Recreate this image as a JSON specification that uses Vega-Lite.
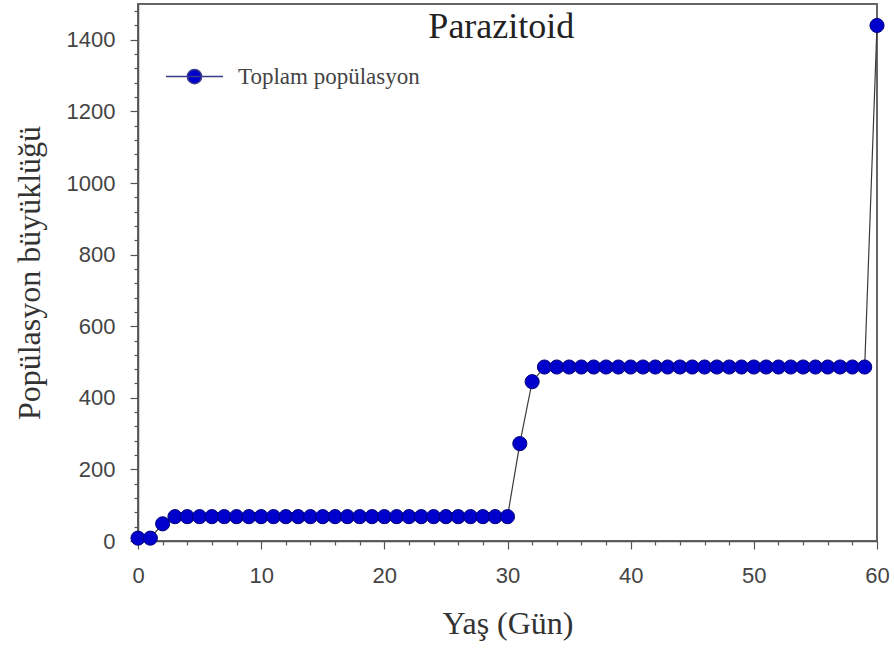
{
  "$schema": "https://vega.github.io/schema/vega-lite/v6.json",
  "width": 739,
  "height": 537,
  "autosize": {"type": "none"},
  "padding": {"left": 138, "top": 4, "right": 17, "bottom": 111},
  "background": "white",
  "data": {"values": [
    {"gun": 0, "pop": 8, "series": "Toplam popülasyon"},
    {"gun": 1, "pop": 8, "series": "Toplam popülasyon"},
    {"gun": 2, "pop": 48, "series": "Toplam popülasyon"},
    {"gun": 3, "pop": 68, "series": "Toplam popülasyon"},
    {"gun": 4, "pop": 68, "series": "Toplam popülasyon"},
    {"gun": 5, "pop": 68, "series": "Toplam popülasyon"},
    {"gun": 6, "pop": 68, "series": "Toplam popülasyon"},
    {"gun": 7, "pop": 68, "series": "Toplam popülasyon"},
    {"gun": 8, "pop": 68, "series": "Toplam popülasyon"},
    {"gun": 9, "pop": 68, "series": "Toplam popülasyon"},
    {"gun": 10, "pop": 68, "series": "Toplam popülasyon"},
    {"gun": 11, "pop": 68, "series": "Toplam popülasyon"},
    {"gun": 12, "pop": 68, "series": "Toplam popülasyon"},
    {"gun": 13, "pop": 68, "series": "Toplam popülasyon"},
    {"gun": 14, "pop": 68, "series": "Toplam popülasyon"},
    {"gun": 15, "pop": 68, "series": "Toplam popülasyon"},
    {"gun": 16, "pop": 68, "series": "Toplam popülasyon"},
    {"gun": 17, "pop": 68, "series": "Toplam popülasyon"},
    {"gun": 18, "pop": 68, "series": "Toplam popülasyon"},
    {"gun": 19, "pop": 68, "series": "Toplam popülasyon"},
    {"gun": 20, "pop": 68, "series": "Toplam popülasyon"},
    {"gun": 21, "pop": 68, "series": "Toplam popülasyon"},
    {"gun": 22, "pop": 68, "series": "Toplam popülasyon"},
    {"gun": 23, "pop": 68, "series": "Toplam popülasyon"},
    {"gun": 24, "pop": 68, "series": "Toplam popülasyon"},
    {"gun": 25, "pop": 68, "series": "Toplam popülasyon"},
    {"gun": 26, "pop": 68, "series": "Toplam popülasyon"},
    {"gun": 27, "pop": 68, "series": "Toplam popülasyon"},
    {"gun": 28, "pop": 68, "series": "Toplam popülasyon"},
    {"gun": 29, "pop": 68, "series": "Toplam popülasyon"},
    {"gun": 30, "pop": 68, "series": "Toplam popülasyon"},
    {"gun": 31, "pop": 272, "series": "Toplam popülasyon"},
    {"gun": 32, "pop": 445, "series": "Toplam popülasyon"},
    {"gun": 33, "pop": 486, "series": "Toplam popülasyon"},
    {"gun": 34, "pop": 486, "series": "Toplam popülasyon"},
    {"gun": 35, "pop": 486, "series": "Toplam popülasyon"},
    {"gun": 36, "pop": 486, "series": "Toplam popülasyon"},
    {"gun": 37, "pop": 486, "series": "Toplam popülasyon"},
    {"gun": 38, "pop": 486, "series": "Toplam popülasyon"},
    {"gun": 39, "pop": 486, "series": "Toplam popülasyon"},
    {"gun": 40, "pop": 486, "series": "Toplam popülasyon"},
    {"gun": 41, "pop": 486, "series": "Toplam popülasyon"},
    {"gun": 42, "pop": 486, "series": "Toplam popülasyon"},
    {"gun": 43, "pop": 486, "series": "Toplam popülasyon"},
    {"gun": 44, "pop": 486, "series": "Toplam popülasyon"},
    {"gun": 45, "pop": 486, "series": "Toplam popülasyon"},
    {"gun": 46, "pop": 486, "series": "Toplam popülasyon"},
    {"gun": 47, "pop": 486, "series": "Toplam popülasyon"},
    {"gun": 48, "pop": 486, "series": "Toplam popülasyon"},
    {"gun": 49, "pop": 486, "series": "Toplam popülasyon"},
    {"gun": 50, "pop": 486, "series": "Toplam popülasyon"},
    {"gun": 51, "pop": 486, "series": "Toplam popülasyon"},
    {"gun": 52, "pop": 486, "series": "Toplam popülasyon"},
    {"gun": 53, "pop": 486, "series": "Toplam popülasyon"},
    {"gun": 54, "pop": 486, "series": "Toplam popülasyon"},
    {"gun": 55, "pop": 486, "series": "Toplam popülasyon"},
    {"gun": 56, "pop": 486, "series": "Toplam popülasyon"},
    {"gun": 57, "pop": 486, "series": "Toplam popülasyon"},
    {"gun": 58, "pop": 486, "series": "Toplam popülasyon"},
    {"gun": 59, "pop": 486, "series": "Toplam popülasyon"},
    {"gun": 60, "pop": 1440, "series": "Toplam popülasyon"}
  ]},
  "resolve": {"axis": {"x": "independent", "y": "independent"}},
  "layer": [
    {
      "mark": {"type": "line", "color": "#3a3a3a", "strokeWidth": 1.2, "clip": false},
      "encoding": {
        "x": {"field": "gun", "type": "quantitative", "scale": {"domain": [0, 60], "nice": false, "zero": false},
          "axis": {"orient": "bottom", "values": [0,10,20,30,40,50,60],
            "title": "Yaş (Gün)", "titleFont": "Liberation Serif", "titleFontSize": 32, "titleFontWeight": "normal", "titleColor": "#333333", "titlePadding": 22,
            "labelFont": "Liberation Sans", "labelFontSize": 22, "labelColor": "#444444", "labelPadding": 16, "tickSize": 8, "tickColor": "#555555", "tickWidth": 1.2, "domainColor": "#555555", "domainWidth": 1.5, "grid": false}},
        "y": {"field": "pop", "type": "quantitative", "scale": {"domain": [0, 1500], "nice": false},
          "axis": {"orient": "left", "values": [0,200,400,600,800,1000,1200,1400], "format": "d",
            "title": "Popülasyon büyüklüğü", "titleFont": "Liberation Serif", "titleFontSize": 32, "titleFontWeight": "normal", "titleColor": "#333333", "titlePadding": 20,
            "labelFont": "Liberation Sans", "labelFontSize": 22, "labelColor": "#444444", "labelPadding": 15, "tickSize": 8, "tickColor": "#555555", "tickWidth": 1.2, "domainColor": "#555555", "domainWidth": 1.5, "grid": false}}
      }
    },
    {
      "mark": {"type": "point", "filled": true, "size": 200, "opacity": 1, "stroke": "#00007a", "strokeWidth": 1, "clip": false},
      "encoding": {
        "x": {"field": "gun", "type": "quantitative",
          "axis": {"orient": "bottom", "values": [2,4,6,8,12,14,16,18,22,24,26,28,32,34,36,38,42,44,46,48,52,54,56,58], "labels": false, "title": null, "domain": false, "grid": false, "tickSize": 4, "tickColor": "#555555", "tickWidth": 1.2}},
        "y": {"field": "pop", "type": "quantitative",
          "axis": {"orient": "left", "values": [40,80,120,160,240,280,320,360,440,480,520,560,640,680,720,760,840,880,920,960,1040,1080,1120,1160,1240,1280,1320,1360,1440,1480], "labels": false, "title": null, "domain": false, "grid": false, "tickSize": 4, "tickColor": "#555555", "tickWidth": 1.2}},
        "color": {"field": "series", "type": "nominal", "scale": {"range": ["#0000cc"]},
          "legend": {"title": null, "orient": "none", "legendX": 27, "legendY": 43, "symbolType": "M-1,0L1,0M0.25,0A0.25,0.25,0,1,1,-0.25,0A0.25,0.25,0,1,1,0.25,0Z", "symbolSize": 3249, "symbolStrokeWidth": 1.5, "symbolStrokeColor": "#3a3a8a", "symbolFillColor": "#0000cc", "symbolOpacity": 1, "labelFont": "Liberation Serif", "labelFontSize": 23, "labelColor": "#444444", "labelOffset": 14, "labelLimit": 400}}
      }
    },
    {
      "data": {"values": [{}]},
      "mark": {"type": "text", "font": "Liberation Serif", "fontSize": 36, "color": "#222222", "align": "center", "baseline": "alphabetic"},
      "encoding": {
        "x": {"datum": 29.5, "type": "quantitative", "axis": null},
        "y": {"datum": 1405, "type": "quantitative", "axis": null},
        "text": {"value": "Parazitoid"}
      }
    }
  ],
  "config": {
    "view": {"stroke": "#666666", "strokeWidth": 2},
    "axis": {"labelFlush": false}
  }
}
